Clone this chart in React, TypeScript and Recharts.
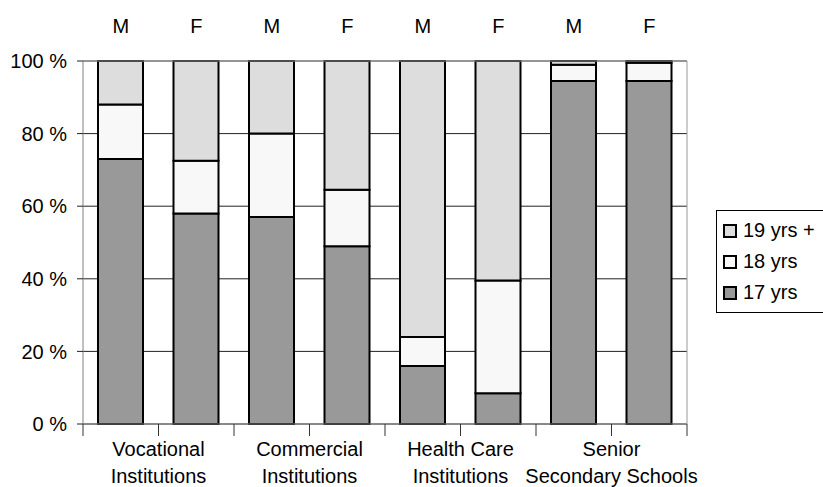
import { Bar, BarChart, CartesianGrid, Legend, XAxis, YAxis } from "recharts"

// one bar per sex within each institution type
const sexes = ["M", "F", "M", "F", "M", "F", "M", "F"]
const groups = [
  ["Vocational", "Institutions"],
  ["Commercial", "Institutions"],
  ["Health Care", "Institutions"],
  ["Senior", "Secondary Schools"],
]

// share of students by age, in percent
const age17 = [73, 58, 57, 49, 16, 8.5, 94.5, 94.5]
const age18 = [15, 14.5, 23, 15.5, 8, 31, 4.5, 5]
const age19 = [12, 27.5, 20, 35.5, 76, 60.5, 1, 0.5]

const yTicks = [0, 20, 40, 60, 80, 100]

const data = sexes.map((sex, i) => ({
  sex,
  key: `c${i}`,
  a17: age17[i],
  a18: age18[i],
  a19: age19[i],
}))

const font = "'Liberation Sans', Arial, sans-serif"

// bottom axis: tick marks between every bar, group label between each M/F pair
function GroupTick(props: any) {
  const { x, y, payload, index } = props
  const half = payload.offset ?? 0
  const left = x - half
  const isLast = index === sexes.length - 1
  const lines = index % 2 === 1 ? groups[(index - 1) / 2] : null
  return (
    <g>
      <line x1={left} y1={y} x2={left} y2={y + 12} stroke="#333" />
      {isLast && <line x1={x + half} y1={y} x2={x + half} y2={y + 12} stroke="#333" />}
      {lines &&
        lines.map((t, k) => (
          <text key={k} x={left} y={y + 32 + k * 27} textAnchor="middle" fontSize={20} fill="#000" fontFamily={font}>
            {t}
          </text>
        ))}
    </g>
  )
}

function AgeLegend(props: any) {
  const items = [...(props.payload || [])].reverse()
  return (
    <div
      style={{
        border: "1px solid #000",
        background: "#fff",
        padding: "4px 0 4px 6px",
        fontFamily: font,
        fontSize: 20,
        width: 100,
        boxSizing: "content-box",
      }}
    >
      {items.map((it: any) => (
        <div key={it.value} style={{ display: "flex", alignItems: "center", height: 31 }}>
          <span
            style={{
              display: "inline-block",
              width: 10,
              height: 10,
              border: "2px solid #000",
              background: it.color,
              marginRight: 6,
            }}
          />
          <span>{it.value}</span>
        </div>
      ))}
    </div>
  )
}

export default function App() {
  return (
    <div style={{ position: "absolute", left: 0, top: 0, fontFamily: font }}>
      <BarChart width={823} height={487} data={data} margin={{ top: 0, right: 135, bottom: 0, left: 0 }}>
        <CartesianGrid vertical={false} stroke="#222" />
        <XAxis
          dataKey="key"
          height={63}
          axisLine={{ stroke: "#808080" }}
          tickLine={false}
          tickSize={0}
          tickMargin={0}
          interval={0}
          tick={<GroupTick />}
        />
        <XAxis
          xAxisId="top"
          dataKey="sex"
          orientation="top"
          height={61}
          axisLine={{ stroke: "#999" }}
          tickLine={false}
          tickSize={0}
          tickMargin={28}
          interval={0}
          tick={{ fill: "#000", fontSize: 20 }}
        />
        <YAxis
          width={83}
          domain={[0, 100]}
          ticks={yTicks}
          tickFormatter={(v) => `${v} %`}
          axisLine={{ stroke: "#808080" }}
          tickLine={{ stroke: "#222" }}
          tickSize={6}
          tickMargin={10}
          tick={{ fill: "#000", fontSize: 20 }}
        />
        <YAxis yAxisId="r" orientation="right" width={1} domain={[0, 100]} tick={false} tickLine={false} axisLine={{ stroke: "#999" }} />
        <Legend
          layout="vertical"
          align="center"
          verticalAlign="middle"
          content={<AgeLegend />}
          wrapperStyle={{ left: 716, top: 210, width: 107 }}
        />
        <Bar dataKey="a17" name="17 yrs" stackId="s" fill="#999999" stroke="#000" strokeWidth={2} barSize={45} isAnimationActive={false} />
        <Bar dataKey="a18" name="18 yrs" stackId="s" fill="#f8f8f8" stroke="#000" strokeWidth={2} barSize={45} isAnimationActive={false} />
        <Bar dataKey="a19" name="19 yrs +" stackId="s" fill="#dddddd" stroke="#000" strokeWidth={2} barSize={45} isAnimationActive={false} />
      </BarChart>
    </div>
  )
}
